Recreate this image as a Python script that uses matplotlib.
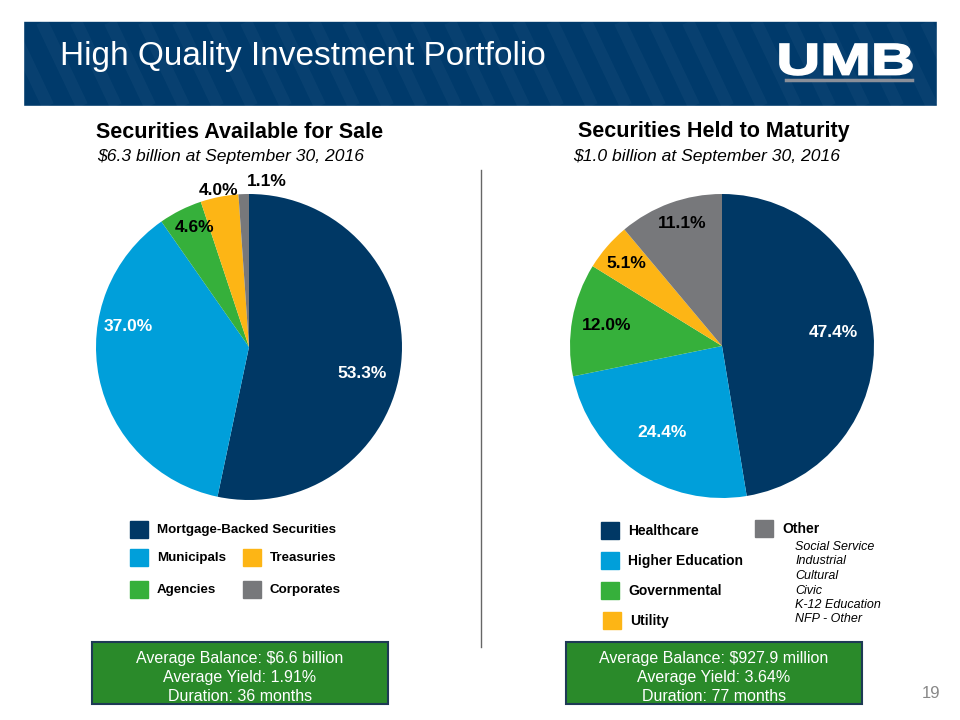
import numpy as np
import matplotlib
matplotlib.use("Agg")
import matplotlib.pyplot as plt
from matplotlib.patches import Rectangle, PathPatch
from matplotlib.textpath import TextPath
from matplotlib.font_manager import FontProperties
from matplotlib.transforms import Affine2D

plt.rcParams['font.family'] = ['Liberation Sans', 'DejaVu Sans']

# data
afs_labels = ['Mortgage-Backed Securities', 'Municipals', 'Agencies', 'Treasuries', 'Corporates']
afs_values = [53.3, 37.0, 4.6, 4.0, 1.1]
htm_labels = ['Healthcare', 'Higher Education', 'Governmental', 'Utility', 'Other']
htm_values = [47.4, 24.4, 12.0, 5.1, 11.1]
other_items = ['Social Service', 'Industrial', 'Cultural', 'Civic', 'K-12 Education', 'NFP - Other']

navy = '#003865'
lblue = '#009fda'
green = '#36b03b'
yellow = '#fdb515'
gray = '#77787b'
colors = [navy, lblue, green, yellow, gray]

W, H = 960, 720
fig = plt.figure(figsize=(9.6, 7.2), dpi=100)

# background axes in pixel coordinates
bg = fig.add_axes([0, 0, 1, 1])
bg.set_xlim(0, W)
bg.set_ylim(H, 0)
bg.axis('off')

# header bar
bg.add_patch(Rectangle((23, 22), 914, 84, color='#003a6b', zorder=1))
for x0 in range(-60, 960, 34):
    bg.plot([x0, x0 + 40], [22, 106], color='white', alpha=0.035, lw=9, zorder=2,
            solid_capstyle='butt')
bg.add_patch(Rectangle((0, 0), 23, 110, color='white', zorder=3))
bg.add_patch(Rectangle((937, 0), 30, 110, color='white', zorder=3))
bg.add_patch(Rectangle((0, 106), 960, 6, color='white', zorder=3))
bg.text(60, 56, 'High Quality Investment Portfolio', color='white', fontsize=24,
        va='center', ha='left', zorder=4)

# logo text stretched to the box it fills
tp = TextPath((0, 0), 'UMB', size=1, prop=FontProperties(family='Liberation Sans', weight='bold'))
ext = tp.get_extents()
sx = 132 / ext.width
sy = 31 / ext.height
logo = tp.transformed(Affine2D().translate(-ext.x0, -ext.y0).scale(sx, -sy).translate(780, 75))
bg.add_patch(PathPatch(logo, facecolor='white', edgecolor='white', lw=1.2, zorder=4))
bg.plot([786, 912], [80, 80], color='#8a8f99', lw=2.5, zorder=4)

# titles
bg.text(240, 132, 'Securities Available for Sale', fontsize=15.5, fontweight='bold',
        ha='center', va='center')
bg.text(231, 157, '$6.3 billion at September 30, 2016', fontsize=12.6, style='italic',
        ha='center', va='center')
bg.text(714, 132, 'Securities Held to Maturity', fontsize=15.5, fontweight='bold',
        ha='center', va='center')
bg.text(707, 157, '$1.0 billion at September 30, 2016', fontsize=12.6, style='italic',
        ha='center', va='center')

# divider
bg.plot([481, 481], [170, 647], color='#666666', lw=1)


def draw_pie(cx, cy, r, values, dists, txtcolors, angle_adj):
    size = 2.4 * r
    ax = fig.add_axes([(cx - size / 2) / W, (H - cy - size / 2) / H, size / W, size / H])
    wedges, _ = ax.pie(values, colors=colors, startangle=90, counterclock=False,
                       wedgeprops=dict(linewidth=0))
    ax.set_xlim(-1.2, 1.2)
    ax.set_ylim(-1.2, 1.2)
    ax.axis('off')
    for w, v, d, c, da in zip(wedges, values, dists, txtcolors, angle_adj):
        ang = np.deg2rad((w.theta1 + w.theta2) / 2 + da)
        ax.text(d * np.cos(ang), d * np.sin(ang), f'{v:.1f}%', color=c, fontsize=12.5,
                fontweight='bold', ha='center', va='center')
    return ax


draw_pie(249, 347, 153, afs_values, [0.76, 0.80, 0.86, 1.04, 1.09],
         ['white', 'white', 'black', 'black', 'black'], [-7, -21, -2, 0, -8])
draw_pie(722, 346, 152, htm_values, [0.74, 0.69, 0.77, 0.83, 0.85],
         ['white', 'white', 'black', 'black', 'black'], [2, 0, 0, 0, -2])

# left legend
leg_left = [(130, 530, 0), (130, 558, 1), (243, 558, 3), (130, 590, 2), (243, 590, 4)]
for x, y, i in leg_left:
    bg.add_patch(Rectangle((x, y - 9), 18, 17, color=colors[i]))
    bg.text(x + 27, y, afs_labels[i], fontsize=9.6, fontweight='bold', va='center')

# right legend
leg_right = [(601, 531, 0), (601, 561, 1), (601, 591, 2), (603, 621, 3), (755, 529, 4)]
for x, y, i in leg_right:
    bg.add_patch(Rectangle((x, y - 9), 18, 17, color=colors[i]))
    bg.text(x + 27, y, htm_labels[i], fontsize=10, fontweight='bold', va='center')
for k, item in enumerate(other_items):
    bg.text(795, 547 + k * 14.5, item, fontsize=9, style='italic', va='center')

# summary boxes
boxes = [
    (92, 'Average Balance: $6.6 billion\nAverage Yield: 1.91%\nDuration: 36 months'),
    (566, 'Average Balance: $927.9 million\nAverage Yield: 3.64%\nDuration: 77 months'),
]
for x, txt in boxes:
    bg.add_patch(Rectangle((x, 642), 296, 62, facecolor='#2a8a2a', edgecolor='#1e3a55', lw=1.5))
    bg.text(x + 148, 677.5, txt, color='white', fontsize=11.5, ha='center', va='center',
            linespacing=1.35)

bg.text(931, 693, '19', color='#888888', fontsize=12, ha='center', va='center')

fig.savefig('out.png', dpi=100)
